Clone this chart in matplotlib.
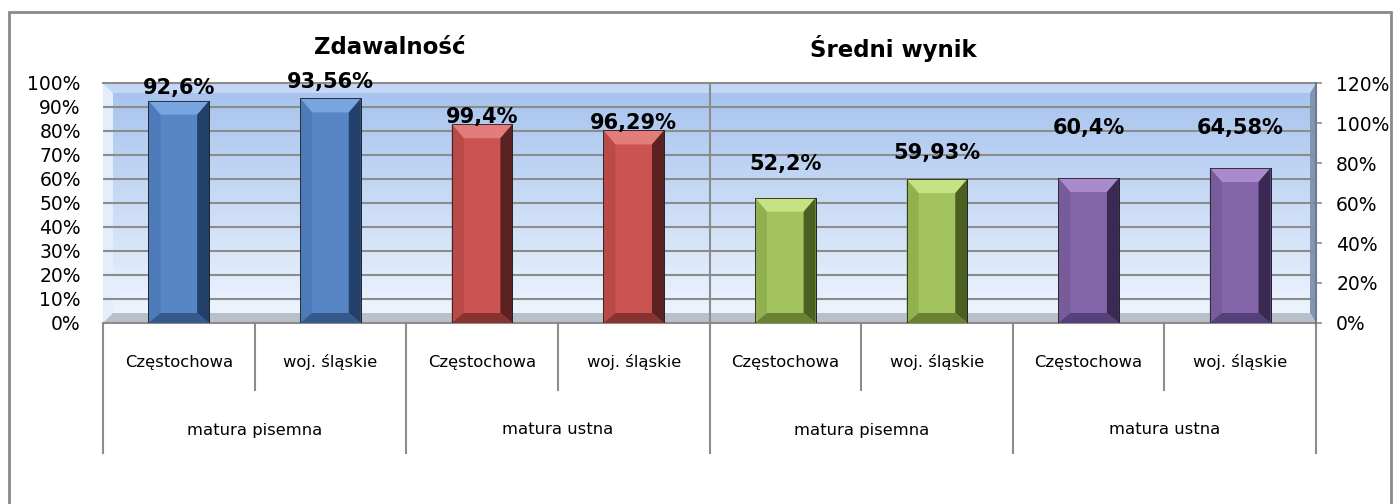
import matplotlib.pyplot as plt
import matplotlib.patches as mpatches
from matplotlib.colors import LinearSegmentedColormap
import numpy as np

# data
chart_titles = ['Zdawalność', 'Średni wynik']
places = ['Częstochowa', 'woj. śląskie'] * 4
exams = ['matura pisemna', 'matura ustna', 'matura pisemna', 'matura ustna']
values = [92.6, 93.56, 99.4, 96.29, 52.2, 59.93, 60.4, 64.58]
value_labels = ['92,6%', '93,56%', '99,4%', '96,29%', '52,2%', '59,93%', '60,4%', '64,58%']
# which y axis each bar was plotted against in the original sheet
on_axis = ['left', 'left', 'right', 'right', 'left', 'left', 'left', 'left']

# styles
label_offsets_px = [13, 16, 7, 7, 34, 26, 50, 40]
palette = {
    'blue':   dict(face='#5686c6', top='#78a4df', left='#4d7bb9', right='#22406a', bottom='#35598a'),
    'red':    dict(face='#cb5351', top='#e27d7b', left='#b94a48', right='#5c2221', bottom='#873331'),
    'green':  dict(face='#a2c35e', top='#c6e384', left='#91b150', right='#4c5f22', bottom='#6a8132'),
    'purple': dict(face='#8465a9', top='#a98acc', left='#775b9b', right='#3a2a53', bottom='#55407a'),
}
bar_colors = ['blue', 'blue', 'red', 'red', 'green', 'green', 'purple', 'purple']
grid_c = '#8c8c8c'

plt.rcParams['font.family'] = 'DejaVu Sans'

W, H = 1400, 504
fig = plt.figure(figsize=(14, 5.04), dpi=100)
ax = fig.add_axes([103 / W, 1 - 323 / H, (1316 - 103) / W, 240 / H])
ax2 = ax.twinx()

n = len(values)
ax.set_xlim(0, n)
ax.set_ylim(0, 100)
ax2.set_ylim(0, 120)

# background wall gradient
wall = LinearSegmentedColormap.from_list('wall', ['#f0f6fe', '#c9dbf5', '#a5c2ee'])
grad = np.linspace(0, 1, 256).reshape(-1, 1)
ax.imshow(grad, extent=[0, n, 0, 100], origin='lower', aspect='auto', cmap=wall, zorder=0)

px_x = (1316 - 103) / n       # px per x unit
px_y = {'left': 240 / 100, 'right': 240 / 120}

# wall bevels
bx = 10 / px_x
by = 10 / px_y['left']
ax.add_patch(mpatches.Polygon([(0, 0), (0, 100), (bx, 100 - by), (bx, by)],
                              closed=True, fc='#e4edfa', ec='none', zorder=0.2))
ax.add_patch(mpatches.Polygon([(n, 0), (n, 100), (n - 6 / px_x, 100 - by), (n - 6 / px_x, by)],
                              closed=True, fc='#8296b4', ec='none', zorder=0.2))
ax.add_patch(mpatches.Polygon([(0, 100), (n, 100), (n - 6 / px_x, 100 - by), (bx, 100 - by)],
                              closed=True, fc='#c4d8f6', ec='none', zorder=0.2))
ax.add_patch(mpatches.Polygon([(0, 0), (n, 0), (n - 6 / px_x, by), (bx, by)],
                              closed=True, fc='#b9c0c9', ec='none', zorder=0.2))

ax.set_yticks(range(0, 101, 10))
ax.set_yticklabels([f'{v}%' for v in range(0, 101, 10)])
ax.set_axisbelow(True)
ax.grid(axis='y', color=grid_c, lw=1.5)
ax.set_xticks([])
ax2.set_yticks(range(0, 121, 20))
ax2.set_yticklabels([f'{v}%' for v in range(0, 121, 20)])

for lab in ax.get_yticklabels() + ax2.get_yticklabels():
    lab.set_fontsize(13.5)
ax.tick_params(axis='y', length=0, pad=16)
ax2.tick_params(axis='y', length=4.5, width=1.2, color=grid_c, pad=10)

for a in (ax, ax2):
    for s in a.spines.values():
        s.set_visible(False)
ax.spines['bottom'].set_visible(True)
ax.spines['bottom'].set_color(grid_c)
ax.spines['bottom'].set_linewidth(1.5)
ax.spines['top'].set_visible(True)
ax.spines['top'].set_color(grid_c)
ax.spines['top'].set_linewidth(1.5)
ax2.spines['right'].set_visible(True)
ax2.spines['right'].set_color('#6d7b90')
ax2.spines['right'].set_linewidth(1.5)

# middle divider
ax.axvline(n / 2, color=grid_c, lw=1.5, zorder=0.6)

# bars
width = 0.4
for i, v in enumerate(values):
    a = ax if on_axis[i] == 'left' else ax2
    col = palette[bar_colors[i]]
    x0 = i + 0.5 - width / 2
    x1 = x0 + width
    a.bar(i + 0.5, v, width=width, color=col['face'], edgecolor='#2a2a2a', linewidth=0.6, zorder=3)
    ex = 12 / px_x
    ey = 14 / px_y[on_axis[i]]
    eb = 10 / px_y[on_axis[i]]
    polys = [
        ([(x0, v), (x1, v), (x1 - ex, v - ey), (x0 + ex, v - ey)], col['top']),
        ([(x0, 0), (x0, v), (x0 + ex, v - ey), (x0 + ex, eb)], col['left']),
        ([(x1, 0), (x1, v), (x1 - ex, v - ey), (x1 - ex, eb)], col['right']),
        ([(x0, 0), (x1, 0), (x1 - ex, eb), (x0 + ex, eb)], col['bottom']),
    ]
    for pts, c in polys:
        a.add_patch(mpatches.Polygon(pts, closed=True, fc=c, ec='none', zorder=4))
    a.add_patch(mpatches.Rectangle((x0, 0), width, v, fill=False, ec='#222222', lw=0.6, zorder=5))
    a.annotate(value_labels[i], (i + 0.5, v), xytext=(0, label_offsets_px[i] * 0.72),
               textcoords='offset points', ha='center', va='center',
               fontsize=15, fontweight='bold', zorder=6)

# category axis (two rows)
tr = ax.get_xaxis_transform()
for i, p in enumerate(places):
    ax.text(i + 0.5, -39 / 240, p, transform=tr, ha='center', va='center', fontsize=11.8)
for g, e in enumerate(exams):
    ax.text(2 * g + 1, -107 / 240, e, transform=tr, ha='center', va='center', fontsize=11.8)
for k in range(n + 1):
    low = -130 / 240 if k % 2 == 0 else -67 / 240
    ax.plot([k, k], [0, low], transform=tr, color=grid_c, lw=1.5, clip_on=False)

# titles
fig.text(390 / W, 1 - 48 / H, chart_titles[0], ha='center', va='center', fontsize=16.5, fontweight='bold')
fig.text(893 / W, 1 - 48 / H, chart_titles[1], ha='center', va='center', fontsize=16.5, fontweight='bold')

# outer frame
fig.patches.append(mpatches.Rectangle((9 / W, -0.05), (1391 - 9) / W, 1.05 - 12 / H,
                                      transform=fig.transFigure, fill=False, ec='#8a8a8a', lw=2))

fig.savefig('out.png', dpi=100)
